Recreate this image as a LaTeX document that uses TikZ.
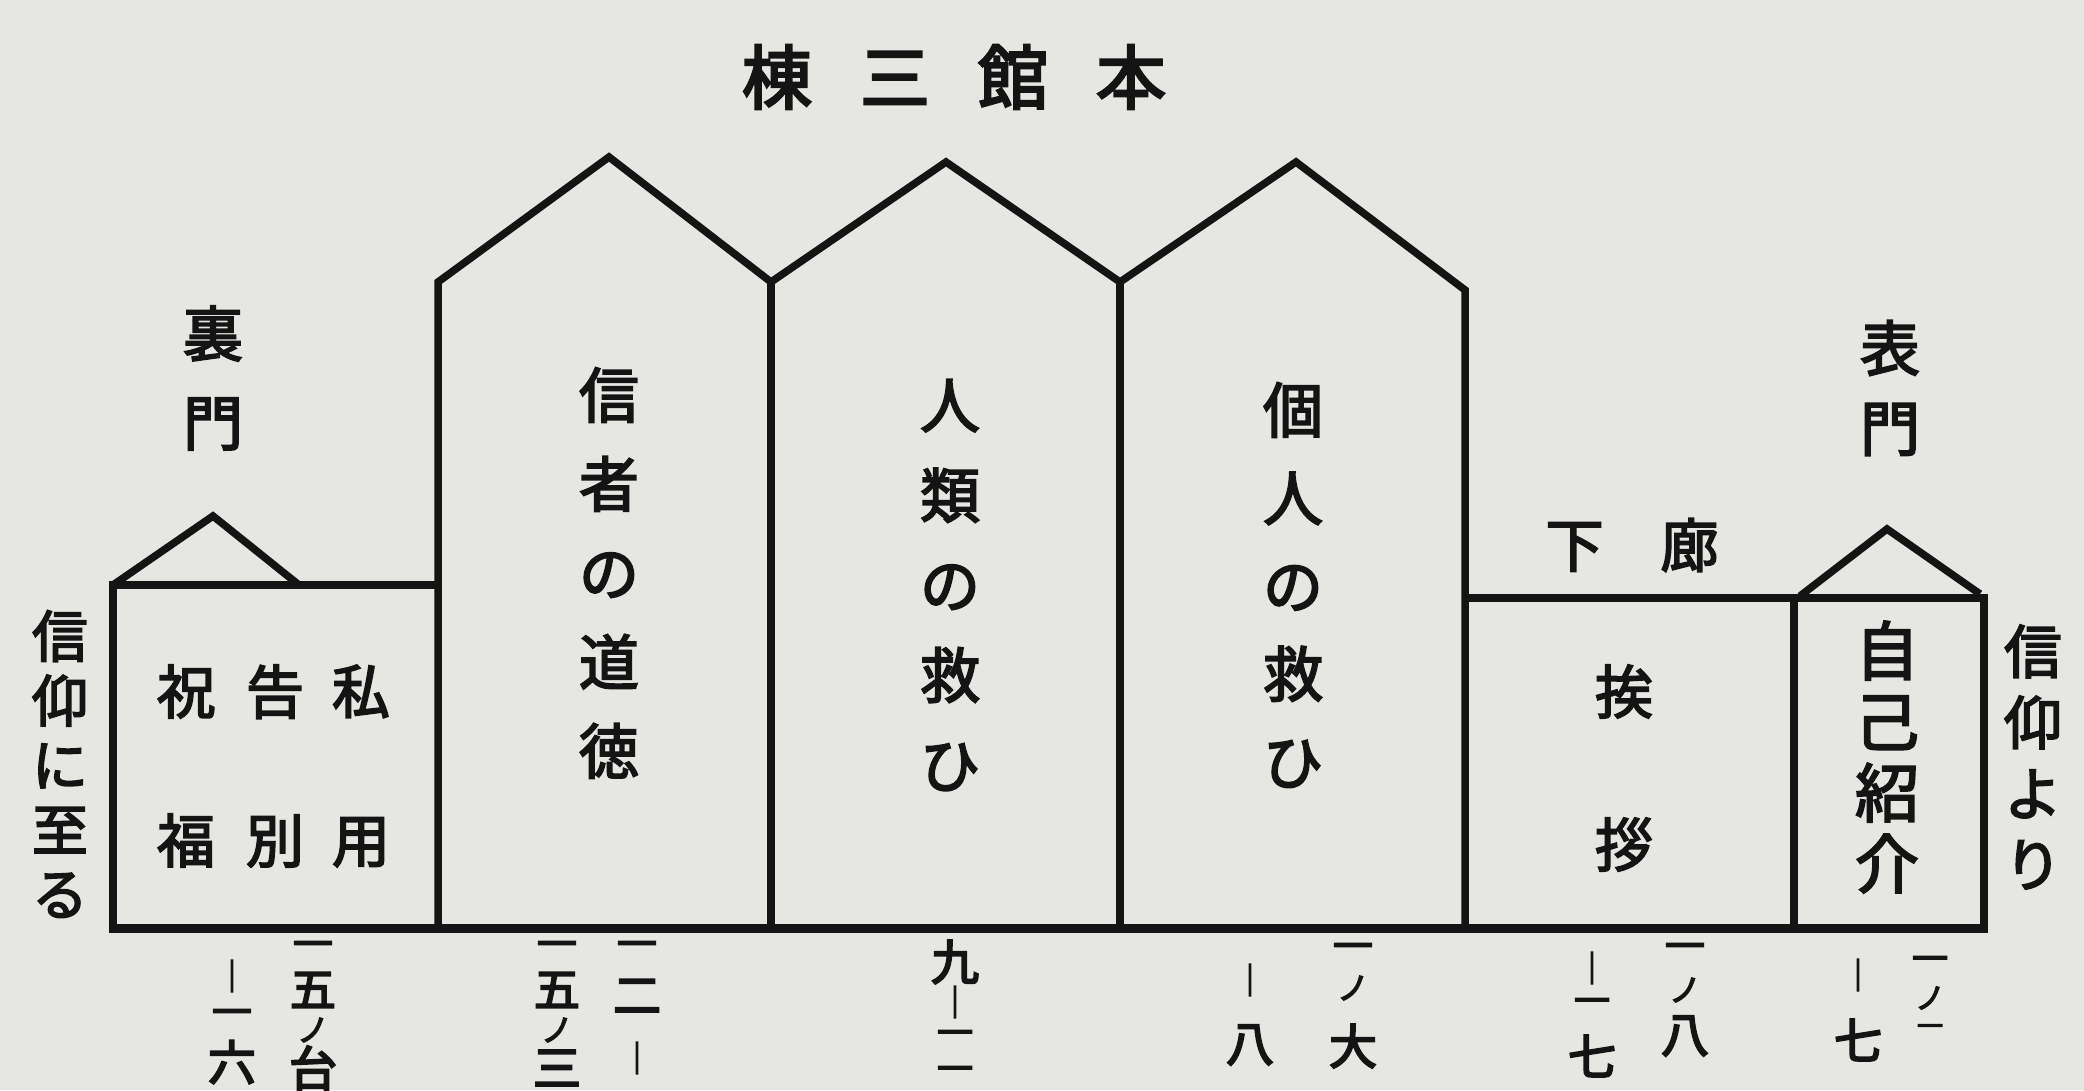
\documentclass[tikz,border=0pt]{standalone}
\usepackage{fontspec}
\newfontfamily\jp[FakeBold=3]{Noto Sans CJK JP}
\newfontfamily\jpn[FakeBold=4]{Noto Sans CJK JP}
\newfontfamily\jpt[FakeBold=3.5]{Noto Sans CJK JP}
\definecolor{paper}{RGB}{230,230,226}
\definecolor{ink}{RGB}{20,20,20}
\tikzset{
  wall/.style={draw=ink,line width=7.5pt,line join=miter},
  ground/.style={draw=ink,line width=9pt,line cap=butt},
  vt/.style={align=center,text=ink,inner sep=0pt},
  num/.style={text=ink,inner sep=0pt,font=\jpn\fontsize{48}{48}\selectfont},
  dashv/.style={text=ink,inner sep=0pt,font=\jpn\fontsize{32}{32}\selectfont}
}
\newcommand\vfont[2]{\jp\fontsize{#1}{#2}\selectfont}
\begin{document}
\begin{tikzpicture}[x=1pt,y=-1pt]
\useasboundingbox (0,0) rectangle (2084,1090);
\fill[paper] (0,0) rectangle (2084,1090);
\clip (0,0) rectangle (2084,1090);

% title
\node[vt,font=\jpt\fontsize{70}{70}\selectfont] (title) at (954,77) {棟\hspace{48pt}三\hspace{48pt}館\hspace{48pt}本};

% buildings outline
\coordinate (g0) at (109,928);
\coordinate (g1) at (1988,928);
\draw[wall] (113,928) -- (113,585) -- (438,585);
\draw[wall] (113,585) -- (213,516) -- (299,585);
\draw[wall] (438,928) -- (438,282) -- (609,157) -- (771,282) -- (946,162) -- (1120,282) -- (1296,162) -- (1465,290) -- (1465,928);
\draw[wall] (771,282) -- (771,928);
\draw[wall] (1120,282) -- (1120,928);
\draw[wall] (1465,598) -- (1984,598) -- (1984,928);
\draw[wall] (1794,598) -- (1794,928);
\draw[wall] (1800,596) -- (1887,529) -- (1980,594);
\draw[ground] (g0) -- (g1);

% gate labels
\node[vt,font=\vfont{60}{89}] (ura) at (213,378) {裏\\門};
\node[vt,font=\vfont{60}{80}] (omote) at (1890,388) {表\\門};
\node[vt,font=\vfont{56}{64.5}] (itaru) at (60,764) {信\\仰\\に\\至\\る};
\node[vt,font=\vfont{58}{71}] (yori) at (2033,757) {信\\仰\\よ\\り};

% room labels
\node[vt,font=\vfont{58}{149}] (c1) at (361,766) {私\\用};
\node[vt,font=\vfont{58}{149}] (c2) at (275,766) {告\\別};
\node[vt,font=\vfont{58}{149}] (c3) at (186,766) {祝\\福};
\node[vt,font=\vfont{60}{89}] (shinja) at (609,573) {信\\者\\の\\道\\徳};
\node[vt,font=\vfont{60}{90}] (jinrui) at (950,585) {人\\類\\の\\救\\ひ};
\node[vt,font=\vfont{60}{88}] (kojin) at (1293,585) {個\\人\\の\\救\\ひ};
\node[vt,font=\vfont{58}{153}] (aisatsu) at (1624,768) {挨\\拶};
\node[vt,font=\vfont{64}{71}] (jiko) at (1887,757) {自\\己\\紹\\介};
\node[vt,font=\vfont{58}{58}] (roka) at (1632,545) {下\hspace{57pt}廊};

% numbers below
\node[dashv] (n1a) at (232,976) {｜};
\node[num,font=\jpn\fontsize{40}{40}\selectfont] (n1b) at (232,1018) {一};
\node[num] (n1c) at (232,1062) {六};
\node[num,font=\jpn\fontsize{40}{40}\selectfont] (n1d) at (313,950) {一};
\node[num,font=\jpn\fontsize{46}{46}\selectfont] (n1e) at (313,990) {五};
\node[num,font=\jpn\fontsize{32}{32}\selectfont] (n1f) at (313,1030) {ノ};
\node[num] (n1g) at (313,1068) {台};

\node[num,font=\jpn\fontsize{40}{40}\selectfont] (n2a) at (557,950) {一};
\node[num,font=\jpn\fontsize{46}{46}\selectfont] (n2b) at (557,990) {五};
\node[num,font=\jpn\fontsize{32}{32}\selectfont] (n2c) at (557,1030) {ノ};
\node[num] (n2d) at (557,1068) {三};
\node[num,font=\jpn\fontsize{40}{40}\selectfont] (n2e) at (637,950) {一};
\node[num] (n2f) at (637,996) {二};
\node[dashv] (n2g) at (637,1058) {｜};

\node[num] (n3a) at (955,962) {九};
\node[dashv] (n3b) at (955,1002) {｜};
\node[num,font=\jpn\fontsize{36}{36}\selectfont] (n3c) at (955,1038) {一};
\node[num,font=\jpn\fontsize{36}{36}\selectfont] (n3d) at (955,1074) {一};

\node[dashv] (n4a) at (1250,980) {｜};
\node[num] (n4b) at (1250,1045) {八};
\node[num,font=\jpn\fontsize{40}{40}\selectfont] (n4c) at (1353,952) {一};
\node[num,font=\jpn\fontsize{32}{32}\selectfont] (n4d) at (1353,988) {ノ};
\node[num] (n4e) at (1353,1046) {大};

\node[dashv] (n5a) at (1592,968) {｜};
\node[num,font=\jpn\fontsize{36}{36}\selectfont] (n5b) at (1592,1006) {一};
\node[num] (n5c) at (1592,1056) {七};
\node[num,font=\jpn\fontsize{40}{40}\selectfont] (n5d) at (1685,952) {一};
\node[num,font=\jpn\fontsize{32}{32}\selectfont] (n5e) at (1685,990) {ノ};
\node[num] (n5f) at (1685,1036) {八};

\node[dashv] (n6a) at (1858,975) {｜};
\node[num] (n6b) at (1858,1040) {七};
\node[num,font=\jpn\fontsize{36}{36}\selectfont] (n6c) at (1930,964) {一};
\node[num,font=\jpn\fontsize{30}{30}\selectfont] (n6d) at (1930,998) {ノ};
\node[num,font=\jpn\fontsize{26}{26}\selectfont] (n6e) at (1930,1030) {一};
\end{tikzpicture}
\end{document}
